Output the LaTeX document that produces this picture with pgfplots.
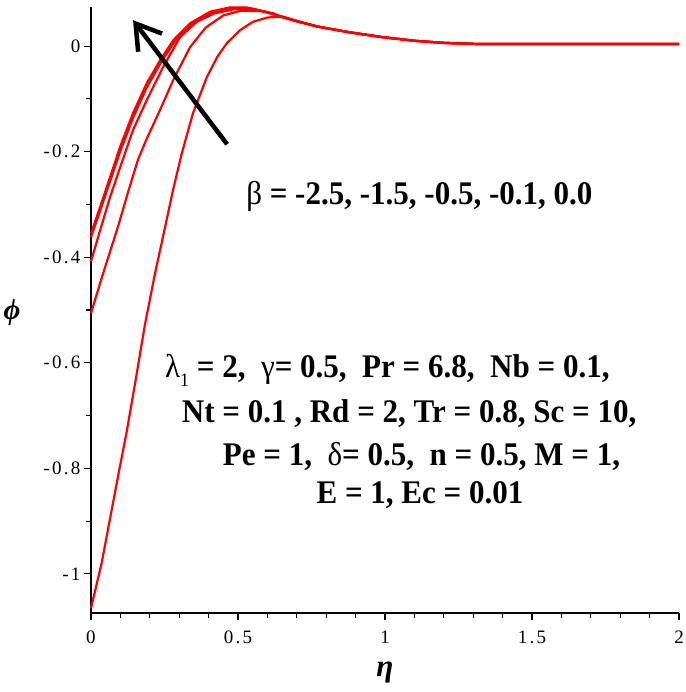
\documentclass[border=0pt]{standalone}
\usepackage{fontspec}
\setmainfont{Liberation Serif}
\newfontfamily\tickfont[LetterSpace=12]{Liberation Serif}
\usepackage{pgfplots}
\pgfplotsset{compat=1.18}
\usetikzlibrary{arrows.meta}

\newcommand{\ann}{\bfseries\fontsize{33}{33}\selectfont}
\newcommand{\sq}[1]{\scalebox{0.94}[1]{#1}}

\begin{document}
\begin{tikzpicture}
\begin{axis}[
    name=ax,
    scale only axis,
    width=588pt, height=606pt,
    xmin=0, xmax=2,
    ymin=-1.074, ymax=0.074,
    axis lines=left,
    axis line style={-, line width=1.4pt},
    xtick={0,0.5,1,1.5,2},
    xticklabels={0,0.5,1,1.5,2},
    minor x tick num=4,
    ytick={-1,-0.8,-0.6,-0.4,-0.2,0},
    yticklabels={-1,-0.8,-0.6,-0.4,-0.2,0},
    minor y tick num=1,
    tick align=outside,
    major tick length=7pt,
    minor tick length=5pt,
    tick style={black, line width=1.1pt},
    ticklabel style={font=\tickfont\fontsize{19}{19}\selectfont},
    xticklabel style={yshift=-7pt},
    /pgf/number format/assume math mode=true,
    clip=false,
]

% beta curves (top to bottom at eta = 0)
\addplot[red, line width=2.2pt] coordinates {
    (0,-0.355)(0.031,-0.305)(0.065,-0.248)(0.099,-0.191)(0.143,-0.127)
    (0.19,-0.07)(0.235,-0.027)(0.28,0.011)(0.337,0.043)(0.405,0.065)
    (0.47,0.073)(0.53,0.073)(0.6,0.064)(0.65,0.055)(0.7,0.047)
    (0.77,0.037)(0.88,0.026)(0.99,0.017)(1.1,0.01)(1.2,0.006)
    (1.31,0.004)(2,0.004)
};
\addplot[red, line width=2.2pt] coordinates {
    (0,-0.362)(0.031,-0.312)(0.065,-0.256)(0.099,-0.2)(0.143,-0.136)
    (0.19,-0.078)(0.235,-0.034)(0.28,0.005)(0.337,0.039)(0.405,0.062)
    (0.47,0.072)(0.54,0.072)(0.6,0.064)(0.65,0.055)(0.7,0.047)
    (0.77,0.037)(0.88,0.026)(0.99,0.017)(1.1,0.01)(1.2,0.006)
    (1.31,0.004)(2,0.004)
};
\addplot[red, line width=2.2pt] coordinates {
    (0,-0.408)(0.031,-0.349)(0.065,-0.286)(0.099,-0.23)(0.143,-0.159)
    (0.19,-0.102)(0.245,-0.04)(0.303,0.017)(0.36,0.046)(0.42,0.062)
    (0.49,0.07)(0.56,0.069)(0.62,0.062)(0.65,0.055)(0.7,0.047)
    (0.77,0.037)(0.88,0.026)(0.99,0.017)(1.1,0.01)(1.2,0.006)
    (1.31,0.004)(2,0.004)
};
\addplot[red, line width=2.2pt] coordinates {
    (0,-0.506)(0.036,-0.44)(0.093,-0.34)(0.127,-0.275)(0.16,-0.215)
    (0.19,-0.175)(0.235,-0.121)(0.28,-0.064)(0.337,-0.002)(0.39,0.035)
    (0.45,0.058)(0.51,0.067)(0.58,0.066)(0.65,0.056)(0.7,0.047)
    (0.77,0.037)(0.88,0.026)(0.99,0.017)(1.1,0.01)(1.2,0.006)
    (1.31,0.004)(2,0.004)
};
\addplot[red, line width=2.2pt] coordinates {
    (0,-1.065)(0.036,-0.98)(0.093,-0.812)(0.121,-0.732)(0.15,-0.639)
    (0.184,-0.526)(0.218,-0.43)(0.252,-0.343)(0.279,-0.273)(0.308,-0.205)
    (0.347,-0.127)(0.394,-0.059)(0.43,-0.02)(0.463,0.006)(0.507,0.03)
    (0.551,0.046)(0.6,0.054)(0.65,0.056)(0.7,0.048)
    (0.77,0.037)(0.88,0.026)(0.99,0.017)(1.1,0.01)(1.2,0.006)
    (1.31,0.004)(2,0.004)
};

% arrow and annotations
\draw[line width=4.5pt, -{Straight Barb[length=24pt,width=30pt]}]
    (axis cs:0.463,-0.186) -- (axis cs:0.143,0.049);
\node[anchor=base, font=\ann] at (axis cs:1.117,-0.301)
    {\sq{{\mdseries β} = -2.5, -1.5, -0.5, -0.1, 0.0}};
\node[anchor=base, font=\ann] at (axis cs:1.008,-0.627)
    {\sq{{\mdseries λ}\raisebox{-9pt}{\mdseries\fontsize{19}{19}\selectfont 1} = 2,\ \ {\mdseries γ}= 0.5,\ \ Pr = 6.8,\ \ Nb = 0.1,}};
\node[anchor=base, font=\ann] at (axis cs:1.082,-0.713)
    {\sq{Nt = 0.1 , Rd = 2, Tr = 0.8, Sc = 10,}};
\node[anchor=base, font=\ann] at (axis cs:1.124,-0.794)
    {\sq{Pe = 1,\ \ {\mdseries δ}= 0.5,\ \ n = 0.5, M = 1,}};
\node[anchor=base, font=\ann] at (axis cs:1.119,-0.866)
    {\sq{E = 1, Ec = 0.01}};

% axis labels
\node[font=\bfseries\itshape\fontsize{29}{29}\selectfont] at (axis cs:-0.269,-0.506) {ϕ};
\node[font=\bfseries\itshape\fontsize{31}{31}\selectfont] at (axis cs:1.0,-1.187) {η};
\end{axis}
\pgfresetboundingbox
\path ([shift={(-91pt,-79pt)}]ax.south west) rectangle ([shift={(6pt,7pt)}]ax.north east);
\end{tikzpicture}
\end{document}
